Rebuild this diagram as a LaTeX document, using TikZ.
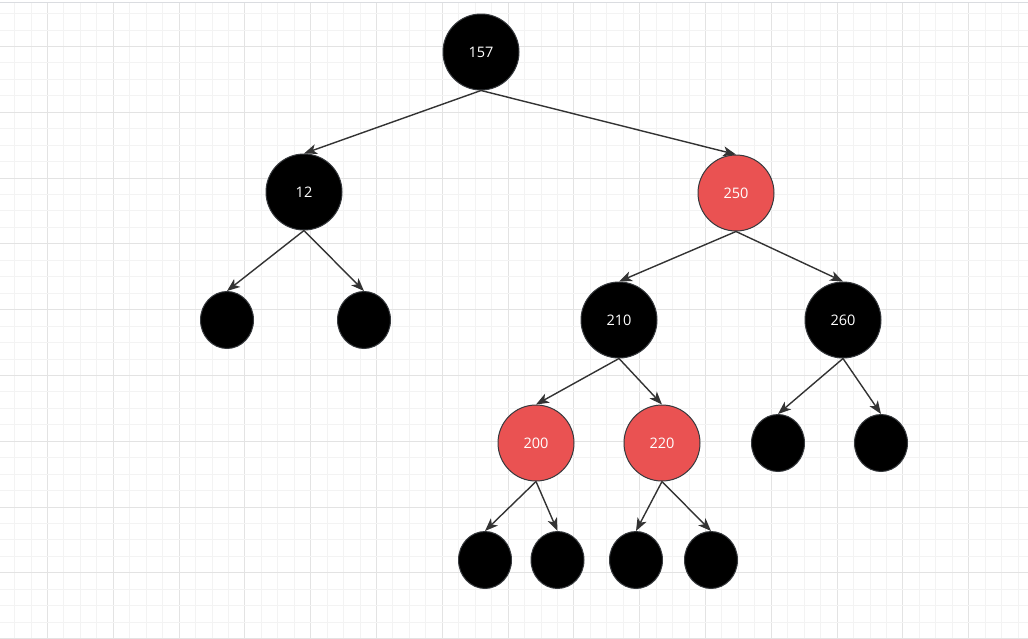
\documentclass[tikz,border=0pt]{standalone}
\usepackage{fontspec}
\setmainfont{Open Sans}
\usetikzlibrary{arrows.meta,shapes.geometric}
\definecolor{gridminor}{HTML}{F3F3F3}
\definecolor{gridmajor}{HTML}{E3E3E3}
\definecolor{topline}{HTML}{DADCE0}
\definecolor{rbred}{HTML}{EA5252}
\definecolor{nodeline}{HTML}{36393D}
\definecolor{edgecol}{HTML}{333333}
\tikzset{
  rbblack/.style={circle, fill=black, draw=nodeline, line width=1pt, minimum size=76pt, inner sep=0pt, text=white, font=\fontsize{14.5}{16}\selectfont},
  rbred/.style={rbblack, fill=rbred},
  nilleaf/.style={ellipse, fill=black, draw=nodeline, line width=1pt, minimum width=53pt, minimum height=57pt, inner sep=0pt},
  edge/.style={draw=edgecol, line width=1.4pt, -{Stealth[length=13pt,width=10pt,inset=3.5pt]}}
}
\begin{document}
\begin{tikzpicture}[x=1pt,y=-1pt]
\useasboundingbox (0,0) rectangle (1028,638);
\fill[white] (0,0) rectangle (1028,638);
% grid
\foreach \i in {0,...,61} {
  \pgfmathsetmacro{\gx}{round(15.15+16.45*\i)-0.5}
  \pgfmathtruncatemacro{\m}{mod(\i,4)}
  \ifnum\m=2
    \draw[gridmajor, line width=1.8pt] (\gx,3) -- (\gx,638);
  \else
    \draw[gridminor, line width=1.6pt] (\gx,3) -- (\gx,638);
  \fi
}
\foreach \i in {0,...,38} {
  \pgfmathsetmacro{\gy}{round(14.1+16.45*\i)-0.5}
  \pgfmathtruncatemacro{\m}{mod(\i,4)}
  \ifnum\m=2
    \draw[gridmajor, line width=1.8pt] (0,\gy) -- (1028,\gy);
  \else
    \draw[gridminor, line width=1.6pt] (0,\gy) -- (1028,\gy);
  \fi
}
\draw[topline, line width=1.2pt] (0,2.5) -- (1028,2.5);
% nodes
\node[rbblack] (n157) at (481,52) {157};
\node[rbblack] (n12) at (304,192) {12};
\node[rbred] (n250) at (736,193) {250};
\node[nilleaf] (l1) at (227,320) {};
\node[nilleaf] (l2) at (364,320) {};
\node[rbblack] (n210) at (619,320) {210};
\node[rbblack] (n260) at (843,320) {260};
\node[rbred] (n200) at (536,443) {200};
\node[rbred] (n220) at (662,443) {220};
\node[nilleaf] (l3) at (778,443) {};
\node[nilleaf] (l4) at (881,443) {};
\node[nilleaf] (l5) at (485,560) {};
\node[nilleaf] (l6) at (557.5,560) {};
\node[nilleaf] (l7) at (636,560) {};
\node[nilleaf] (l8) at (711,560) {};
% edges
\draw[edge] (n157.south) -- (n12.north);
\draw[edge] (n157.south) -- (n250.north);
\draw[edge] (n12.south) -- (l1.north);
\draw[edge] (n12.south) -- (l2.north);
\draw[edge] (n250.south) -- (n210.north);
\draw[edge] (n250.south) -- (n260.north);
\draw[edge] (n210.south) -- (n200.north);
\draw[edge] (n210.south) -- (n220.north);
\draw[edge] (n260.south) -- (l3.north);
\draw[edge] (n260.south) -- (l4.north);
\draw[edge] (n200.south) -- (l5.north);
\draw[edge] (n200.south) -- (l6.north);
\draw[edge] (n220.south) -- (l7.north);
\draw[edge] (n220.south) -- (l8.north);
\end{tikzpicture}
\end{document}
